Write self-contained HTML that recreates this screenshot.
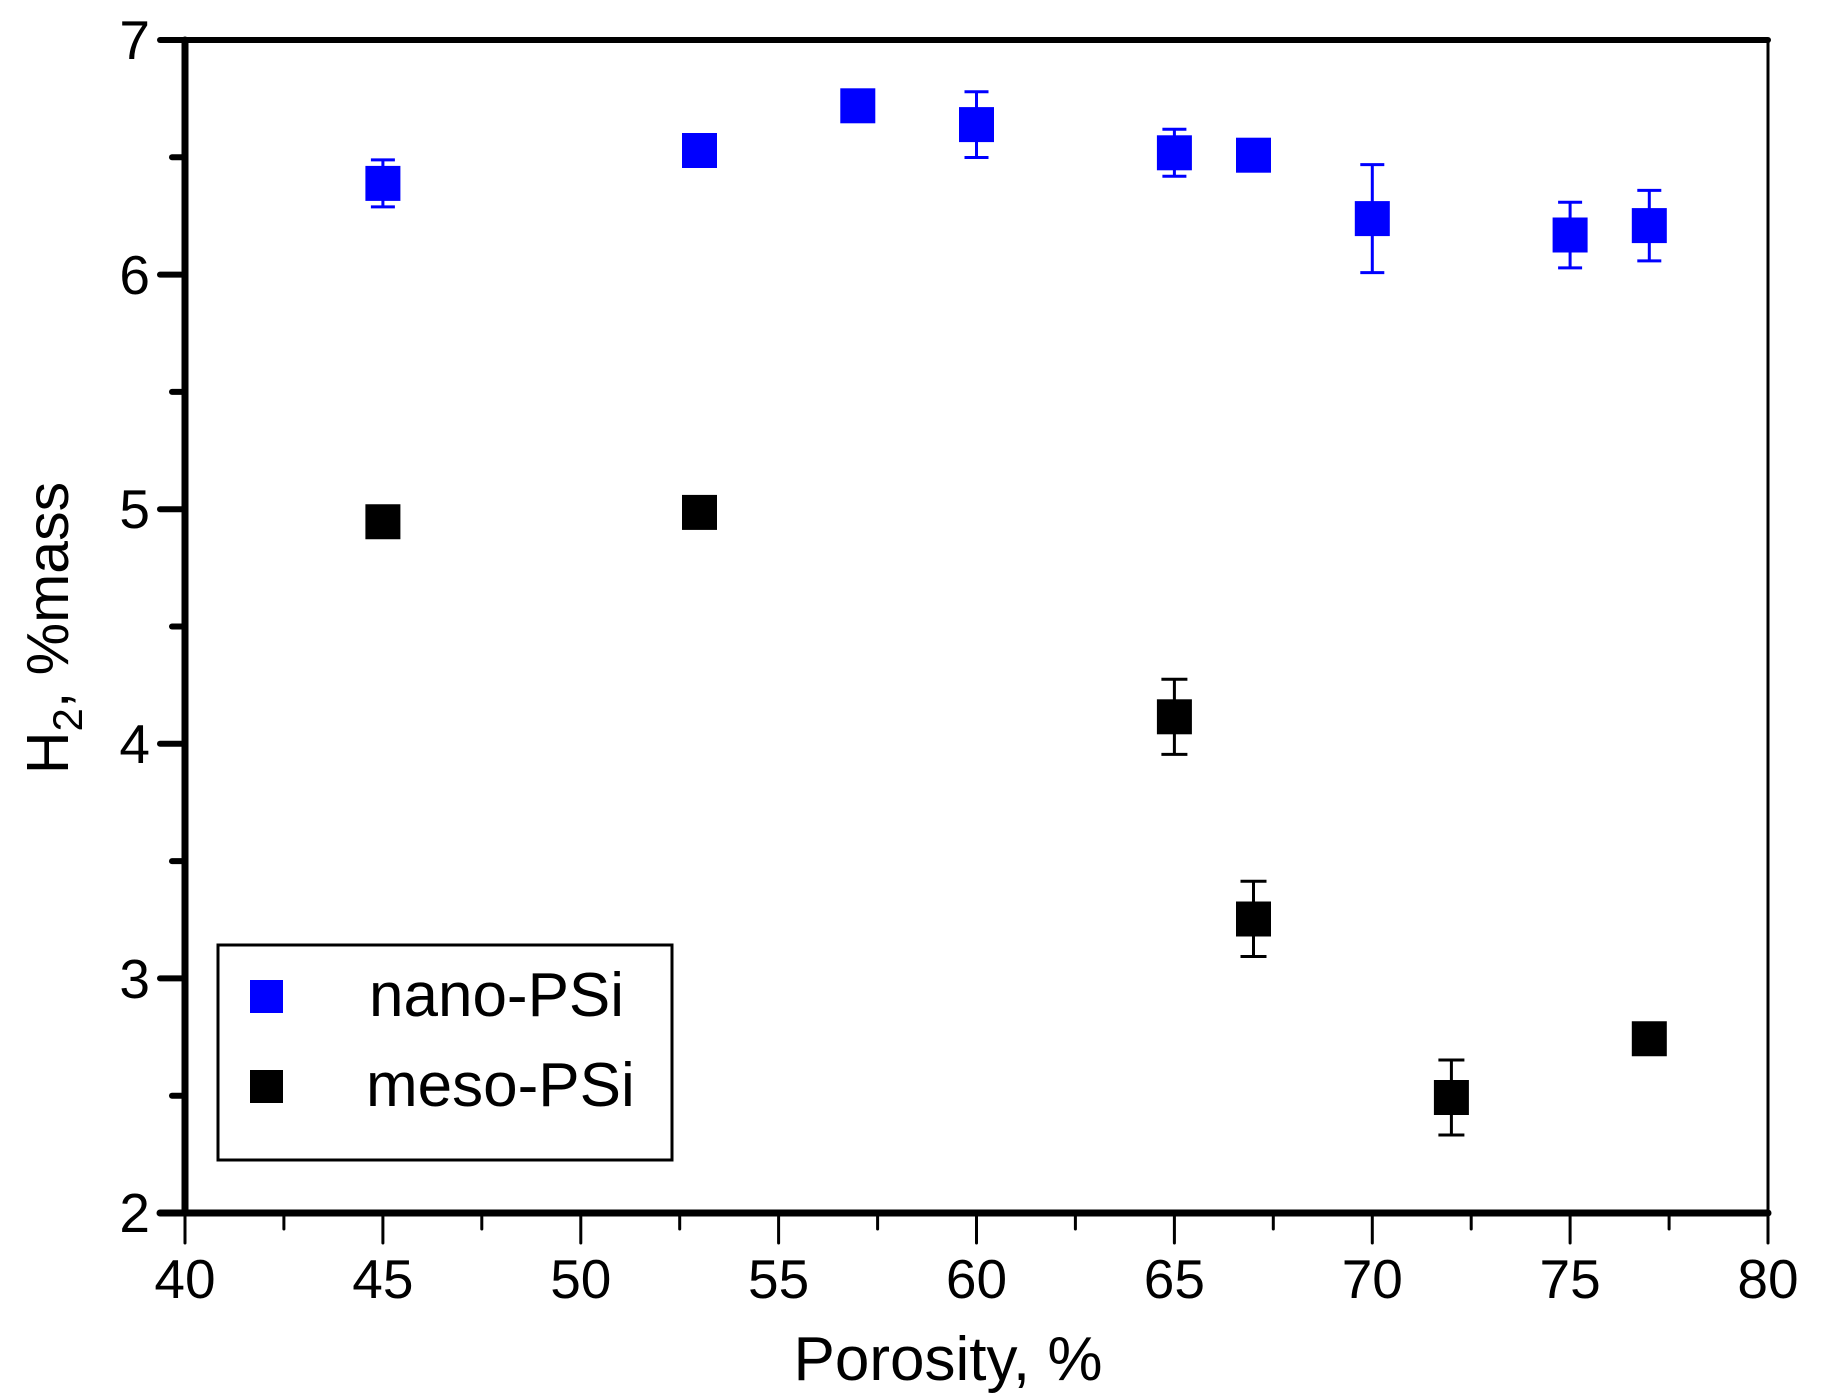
<!DOCTYPE html>
<html><head><meta charset="utf-8"><style>html,body{margin:0;padding:0;background:#fff}svg{display:block}</style></head>
<body>
<svg width="1825" height="1400" viewBox="0 0 1825 1400" xmlns="http://www.w3.org/2000/svg" font-family="Liberation Sans, sans-serif">
<rect width="1825" height="1400" fill="#fff"/>
<g stroke="#000" stroke-linecap="round">
<line x1="185" y1="40" x2="1768" y2="40" stroke-width="6"/>
<line x1="1768" y1="40" x2="1768" y2="1213" stroke-width="3"/>
<line x1="185" y1="40" x2="185" y2="1213" stroke-width="7"/>
<line x1="160" y1="1213" x2="1768" y2="1213" stroke-width="7"/>
<g stroke-width="6">
<line x1="160" y1="40" x2="185" y2="40"/><line x1="160" y1="274.6" x2="185" y2="274.6"/><line x1="160" y1="509.2" x2="185" y2="509.2"/><line x1="160" y1="743.8" x2="185" y2="743.8"/><line x1="160" y1="978.4" x2="185" y2="978.4"/>
<line x1="172" y1="157.3" x2="185" y2="157.3"/><line x1="172" y1="391.9" x2="185" y2="391.9"/><line x1="172" y1="626.5" x2="185" y2="626.5"/><line x1="172" y1="861.1" x2="185" y2="861.1"/><line x1="172" y1="1095.7" x2="185" y2="1095.7"/>
</g>
<g stroke-width="3">
<line x1="185" y1="1213" x2="185" y2="1243"/><line x1="382.9" y1="1213" x2="382.9" y2="1243"/><line x1="580.8" y1="1213" x2="580.8" y2="1243"/><line x1="778.6" y1="1213" x2="778.6" y2="1243"/><line x1="976.5" y1="1213" x2="976.5" y2="1243"/><line x1="1174.4" y1="1213" x2="1174.4" y2="1243"/><line x1="1372.3" y1="1213" x2="1372.3" y2="1243"/><line x1="1570.1" y1="1213" x2="1570.1" y2="1243"/><line x1="1768" y1="1213" x2="1768" y2="1243"/>
<line x1="283.9" y1="1213" x2="283.9" y2="1229"/><line x1="481.8" y1="1213" x2="481.8" y2="1229"/><line x1="679.7" y1="1213" x2="679.7" y2="1229"/><line x1="877.6" y1="1213" x2="877.6" y2="1229"/><line x1="1075.4" y1="1213" x2="1075.4" y2="1229"/><line x1="1273.3" y1="1213" x2="1273.3" y2="1229"/><line x1="1471.2" y1="1213" x2="1471.2" y2="1229"/><line x1="1669.1" y1="1213" x2="1669.1" y2="1229"/>
</g>
</g>
<g font-size="55" text-anchor="middle" fill="#000">
<text x="185" y="1298">40</text><text x="382.9" y="1298">45</text><text x="580.8" y="1298">50</text><text x="778.6" y="1298">55</text><text x="976.5" y="1298">60</text><text x="1174.4" y="1298">65</text><text x="1372.3" y="1298">70</text><text x="1570.1" y="1298">75</text><text x="1768" y="1298">80</text>
</g>
<g font-size="55" text-anchor="end" fill="#000">
<text x="150" y="59">7</text><text x="150" y="294">6</text><text x="150" y="528">5</text><text x="150" y="763">4</text><text x="150" y="998">3</text><text x="150" y="1232">2</text>
</g>
<text x="948" y="1380" font-size="62" text-anchor="middle">Porosity, %</text>
<text transform="translate(68,628) rotate(-90)" font-size="59" text-anchor="middle">H<tspan font-size="42" dy="14">2</tspan><tspan dy="-14">, %mass</tspan></text>
<g stroke="#00f" stroke-width="3">
<path d="M382.9 159.9V206.9M370.9 159.9h24M370.9 206.9h24"/>
<path d="M976.5 91.7V157.5M964.5 91.7h24M964.5 157.5h24"/>
<path d="M1174.4 129.3V176.3M1162.4 129.3h24M1162.4 176.3h24"/>
<path d="M1372.3 164.6V272.6M1360.3 164.6h24M1360.3 272.6h24"/>
<path d="M1570.1 202.2V267.9M1558.1 202.2h24M1558.1 267.9h24"/>
<path d="M1649.3 190.4V260.9M1637.3 190.4h24M1637.3 260.9h24"/>
</g>
<g fill="#00f">
<rect x="365.4" y="165.9" width="35" height="35"/>
<rect x="682" y="133" width="35" height="35"/>
<rect x="840.3" y="88.3" width="35" height="35"/>
<rect x="959" y="107.1" width="35" height="35"/>
<rect x="1156.9" y="135.3" width="35" height="35"/>
<rect x="1236" y="137.7" width="35" height="35"/>
<rect x="1354.8" y="201.1" width="35" height="35"/>
<rect x="1552.6" y="217.5" width="35" height="35"/>
<rect x="1631.8" y="208.1" width="35" height="35"/>
</g>
<g stroke="#000" stroke-width="3">
<path d="M1174.4 679.2V754.4M1161.4 679.2h26M1161.4 754.4h26"/>
<path d="M1253.5 881.3V956.5M1240.5 881.3h26M1240.5 956.5h26"/>
<path d="M1451.4 1060V1135M1438.4 1060h26M1438.4 1135h26"/>
</g>
<g fill="#000">
<rect x="365.4" y="504.25" width="35" height="35"/>
<rect x="682" y="494.9" width="35" height="35"/>
<rect x="1156.9" y="699.3" width="35" height="35"/>
<rect x="1236" y="901.5" width="35" height="35"/>
<rect x="1433.9" y="1080" width="35" height="35"/>
<rect x="1631.8" y="1021.25" width="35" height="35"/>
</g>
<rect x="218" y="945" width="454" height="215" fill="none" stroke="#000" stroke-width="3"/>
<rect x="250" y="980" width="33" height="33" fill="#00f"/>
<rect x="250" y="1070" width="33" height="33" fill="#000"/>
<text x="369" y="1016" font-size="62">nano-PSi</text>
<text x="366" y="1106" font-size="62">meso-PSi</text>
</svg>
</body></html>
